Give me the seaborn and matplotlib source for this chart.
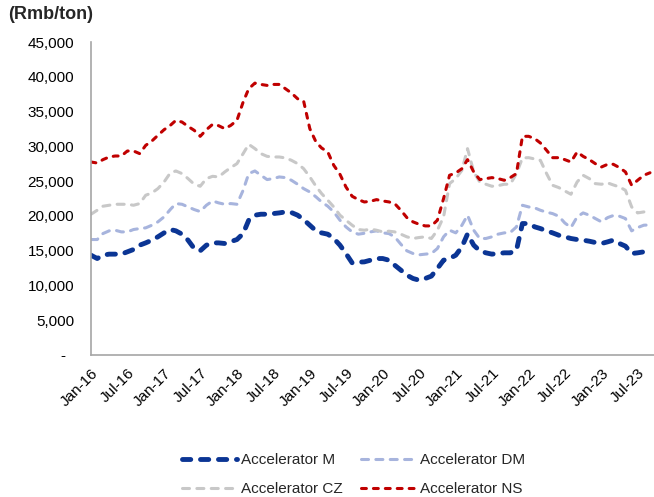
import matplotlib
matplotlib.use("Agg")
import matplotlib.pyplot as plt
import matplotlib.dates as mdates
from matplotlib.ticker import FuncFormatter
import seaborn as sns
import pandas as pd

# monthly prices, Jan-16 .. Sep-23 (Rmb/ton)
months = pd.date_range("2016-01-01", periods=93, freq="MS")

accel_m = [
    14350, 13870, 14350, 14500, 14500, 14500, 14830, 15170, 15790, 16120, 16510, 16990,
    17560, 18040, 17850, 17370, 16510, 15310, 14980, 15790, 16120, 16120, 16030, 16300,
    16600, 17460, 19380, 20100, 20240, 20240, 20330, 20430, 20570, 20480, 20100, 19470,
    18660, 17850, 17560, 17370, 16750, 15790, 14590, 13250, 13350, 13390, 13630, 13870,
    13870, 13630, 12920, 12200, 11480, 11000, 10760, 11000, 11340, 12440, 13630, 13870,
    14350, 15550, 17400, 15790, 14980, 14690, 14500, 14590, 14690, 14690, 15070, 18900,
    18900, 18420, 18180, 17850, 17560, 17220, 16990, 16750, 16600, 16510, 16360, 16170,
    16030, 16270, 16510, 16030, 15650, 14590, 14690, 14830, 14950,
]
accel_dm = [
    16600, 16600, 17460, 17850, 17940, 17700, 17700, 18040, 18180, 18280, 18660, 19140,
    19860, 20910, 21770, 21670, 21290, 20910, 20620, 21530, 22150, 21870, 21670, 21770,
    21670, 23680, 26080, 26460, 25840, 25220, 25360, 25600, 25500, 25120, 24550, 23920,
    23440, 22730, 22010, 21390, 20570, 19380, 18420, 17700, 17370, 17500, 17700, 17850,
    17560, 17460, 16990, 15930, 14980, 14590, 14400, 14500, 14590, 15310, 16990, 17940,
    17560, 18660, 20100, 17940, 16750, 16750, 16990, 17370, 17560, 17610, 18420, 21530,
    21290, 21150, 20810, 20530, 20330, 19950, 18990, 18320, 19860, 20430, 20100, 19620,
    19140, 19760, 20050, 19950, 19620, 17850, 18320, 18660, 18700,
]
accel_cz = [
    20240, 20810, 21390, 21530, 21670, 21670, 21670, 21530, 21770, 22970, 23300, 23920,
    24880, 26170, 26460, 26080, 25360, 24550, 24260, 25360, 25690, 25600, 26320, 26940,
    27510, 28950, 30290, 29670, 28950, 28560, 28470, 28470, 28330, 27990, 27510, 26790,
    25600, 24260, 23210, 22250, 21290, 20100, 19380, 18660, 18040, 17940, 18090, 17940,
    17700, 17800, 17700, 17370, 16990, 16750, 16890, 16990, 16750, 17940, 19860, 24640,
    25360, 26560, 29670, 26320, 24880, 24550, 24260, 24350, 24550, 24550, 26080, 28330,
    28370, 28180, 27990, 26080, 24400, 24070, 23590, 23110, 24880, 25840, 25360, 24640,
    24550, 24740, 24450, 24160, 23680, 21290, 20430, 20570, 20800,
]
accel_ns = [
    27750, 27600, 28090, 28470, 28610, 28610, 29330, 29330, 28950, 30140, 30770, 31580,
    32390, 33010, 33730, 33490, 32870, 32300, 31440, 32390, 33160, 32970, 32540, 33010,
    33730, 36360, 38280, 39090, 38900, 38760, 38900, 38900, 38280, 37660, 36840, 36510,
    32540, 30620, 29760, 29190, 27270, 25980, 24160, 22820, 22340, 22000, 22100, 22340,
    22150, 22010, 21770, 20810, 19760, 19140, 18800, 18560, 18560, 19380, 22490, 25840,
    26170, 26790, 28090, 26320, 25220, 25360, 25500, 25360, 25120, 25500, 26080, 31440,
    31440, 31100, 30480, 29430, 28370, 28370, 28090, 27750, 29190, 28560, 28090, 27510,
    27030, 27420, 27420, 26940, 26320, 24400, 25120, 25840, 26200,
]

series_names = ["Accelerator M", "Accelerator DM", "Accelerator CZ", "Accelerator NS"]
series_values = [accel_m, accel_dm, accel_cz, accel_ns]
colors = ["#0B3594", "#A7B4DD", "#C8C8C8", "#C00000"]
widths = [3.5, 2.2, 2.2, 2.2]
dash_styles = [(1.7, 2.0), (2.3, 2.4), (2.3, 2.4), (1.6, 2.3)]

sns.set_style("white")
plt.rcParams["font.family"] = ["Liberation Sans", "DejaVu Sans"]

fig = plt.figure(figsize=(6.54, 4.97), dpi=100)
ax = fig.add_axes([91 / 654, 1 - 355 / 497, 1 - 91 / 654, (355 - 42) / 497])

lines = {}
for name, vals, col, lw, dsh in zip(series_names, series_values, colors, widths, dash_styles):
    sns.lineplot(x=months, y=vals, ax=ax, color=col, linewidth=lw,
                 linestyle=(0, dsh), dash_capstyle="round", label=name, legend=False)
    lines[name] = ax.get_lines()[-1]

ax.set_ylim(0, 45000)
ax.set_yticks(range(0, 45001, 5000))
ax.yaxis.set_major_formatter(FuncFormatter(lambda v, p: "-  " if v == 0 else f"{v:,.0f}"))

start = pd.Timestamp("2016-01-01")
ax.set_xlim(mdates.date2num(start), mdates.date2num(pd.Timestamp("2023-09-21")))
ax.set_xticks(pd.date_range("2016-01-01", "2023-07-01", freq="6MS"))
ax.xaxis.set_major_formatter(mdates.DateFormatter("%b-%y"))
plt.setp(ax.get_xticklabels(), rotation=45, ha="right", va="top", rotation_mode="anchor")

for side in ["top", "right"]:
    ax.spines[side].set_visible(False)
for side in ["left", "bottom"]:
    ax.spines[side].set_color("#A6A6A6")
    ax.spines[side].set_linewidth(1.2)
ax.tick_params(axis="both", which="major", length=5, width=1, color="#A6A6A6",
               labelsize=11, labelcolor="black", direction="out")
ax.tick_params(axis="y", pad=7)
ax.tick_params(axis="x", pad=3)
ax.set_xlabel("")
ax.set_ylabel("")
ax.grid(False)

fig.text(8 / 654, 1 - 6 / 497, "(Rmb/ton)", fontsize=13, fontweight="bold", va="top", ha="left")

order = ["Accelerator M", "Accelerator CZ", "Accelerator DM", "Accelerator NS"]
fig.legend([lines[n] for n in order], order, ncol=2, loc="upper left",
           bbox_to_anchor=(182 / 654, 1 - 453 / 497), frameon=False, fontsize=11,
           handlelength=3.6, handletextpad=0.25, columnspacing=1.2, labelspacing=0.98,
           borderpad=0, borderaxespad=0)

fig.savefig("out.png", dpi=100)
